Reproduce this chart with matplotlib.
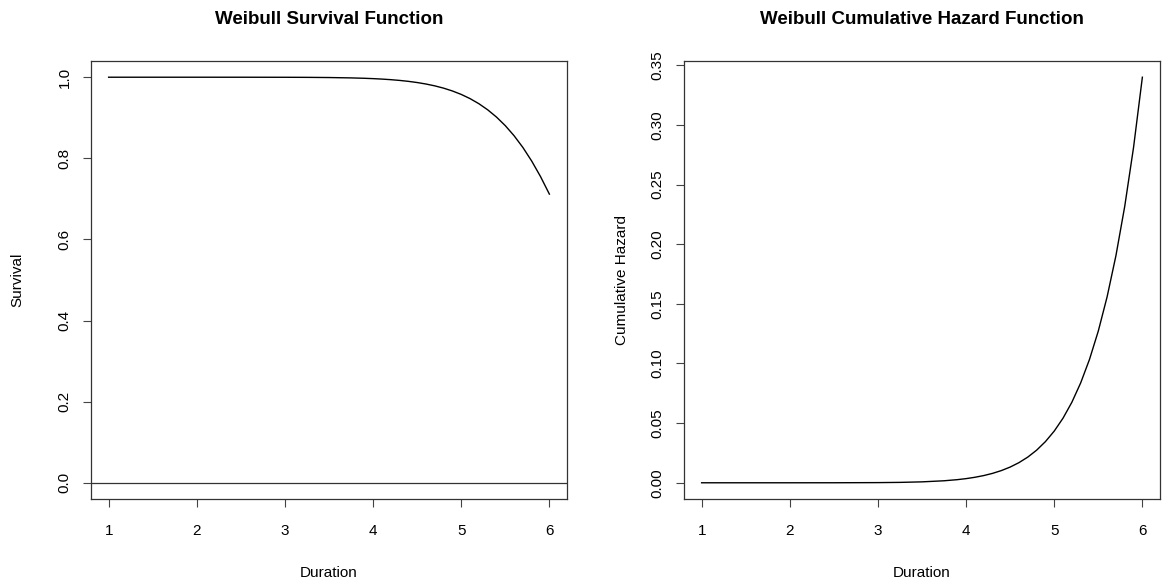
import matplotlib
matplotlib.use("Agg")
import matplotlib.pyplot as plt

plt.rcParams['font.family'] = ['Liberation Sans', 'DejaVu Sans']

# duration grid
duration = [1.0, 1.5, 2.0, 2.5, 3.0, 3.25, 3.5, 3.75, 3.9, 4.0, 4.1, 4.2, 4.3, 4.4,
            4.5, 4.6, 4.7, 4.8, 4.9, 5.0, 5.1, 5.2, 5.3, 5.4, 5.5, 5.6, 5.7, 5.8,
            5.9, 6.0]
# cumulative hazard values
cum_hazard = [0.0, 0.0, 0.0, 0.00002, 0.00014, 0.00033, 0.00077, 0.00168, 0.00261,
              0.00348, 0.00460, 0.00604, 0.00788, 0.01022, 0.01317, 0.01689, 0.02153,
              0.02731, 0.03450, 0.04332, 0.05419, 0.06748, 0.08371, 0.1034, 0.1272,
              0.1559, 0.1904, 0.2318, 0.2812, 0.3400]
# survival values
survival = [1.0, 1.0, 1.0, 0.99998, 0.99986, 0.99967, 0.99923, 0.99832, 0.99739,
            0.99653, 0.99541, 0.99398, 0.99215, 0.98983, 0.98692, 0.98325, 0.97870,
            0.97306, 0.96609, 0.95760, 0.94725, 0.93474, 0.91970, 0.90177, 0.88056,
            0.85565, 0.82663, 0.79308, 0.75488, 0.71177]

x_ticks = [1, 2, 3, 4, 5, 6]
surv_ticks = [0.0, 0.2, 0.4, 0.6, 0.8, 1.0]
haz_ticks = [0.00, 0.05, 0.10, 0.15, 0.20, 0.25, 0.30, 0.35]

W, H = 1173, 584
fig = plt.figure(figsize=(W / 100, H / 100), dpi=100)

def r_axes(left, ylo, yhi):
    ax = fig.add_axes([left / W, (H - 499) / H, 476 / W, 438 / H])
    ax.set_xlim(0.8, 6.2)
    pad = (yhi - ylo) * 0.04
    ax.set_ylim(ylo - pad, yhi + pad)
    for s in ax.spines.values():
        s.set_linewidth(0.9)
        s.set_color('#333333')
    ax.tick_params(direction='out', length=6, width=0.8, labelsize=11, color='#444444')
    ax.tick_params(axis='x', pad=12)
    ax.tick_params(axis='y', pad=8)
    ax.set_xticks(x_ticks)
    ax.set_xticklabels([str(t) for t in x_ticks])
    return ax

# survival panel
ax1 = r_axes(91, 0.0, 1.0)
ax1.plot(duration, survival, color='black', lw=1.0)
ax1.axhline(0, color='#333333', lw=0.9)
ax1.set_yticks(surv_ticks)
ax1.set_yticklabels([f"{t:.1f}" for t in surv_ticks], rotation=90, va='center')

# cumulative hazard panel
ax2 = r_axes(684, 0.0, 0.34)
ax2.plot(duration, cum_hazard, color='black', lw=1.0)
ax2.set_yticks(haz_ticks)
ax2.set_yticklabels([f"{t:.2f}" for t in haz_ticks], rotation=90, va='center')

# titles and axis labels
for left, title, ylab, ylab_x in [(91, "Weibull Survival Function", "Survival", 17),
                                  (684, "Weibull Cumulative Hazard Function", "Cumulative Hazard", 622)]:
    cx = (left + 238) / W
    fig.text(cx, 1 - 20 / H, title, ha='center', va='center', fontsize=13.5, fontweight='bold')
    fig.text(cx, 1 - 573 / H, "Duration", ha='center', va='center', fontsize=11)
    fig.text(ylab_x / W, 1 - 280 / H, ylab, ha='center', va='center', rotation=90, fontsize=11)

fig.savefig("out.png", dpi=100)
